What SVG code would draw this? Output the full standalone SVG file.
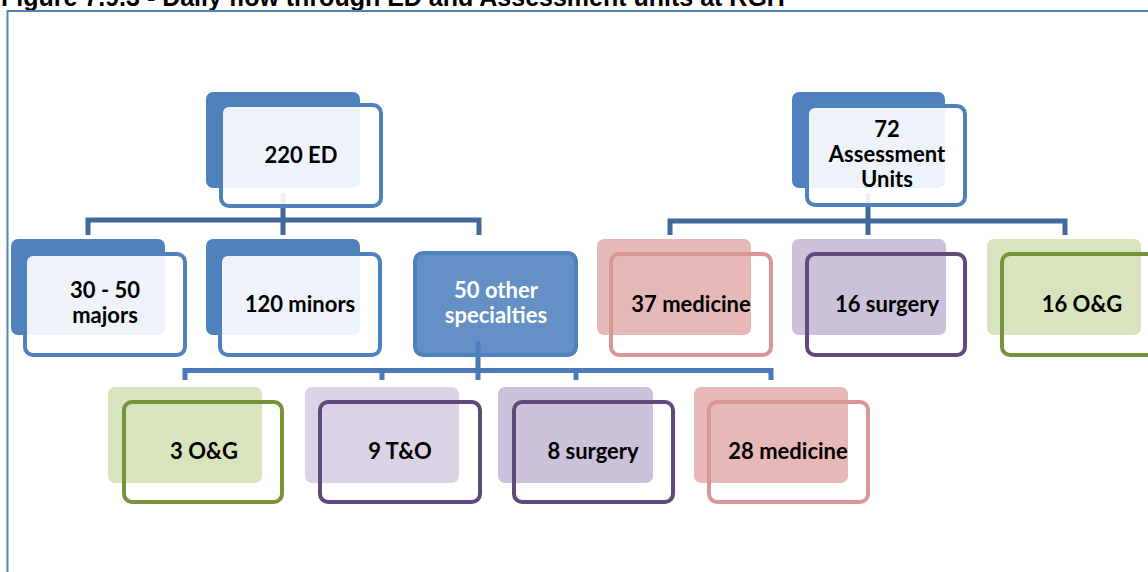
<svg xmlns="http://www.w3.org/2000/svg" width="1148" height="572" viewBox="0 0 1148 572">
  <style>
    .title { font-family: "Liberation Sans", Arial, sans-serif; font-weight: bold; font-size: 25px; fill: #000; }
    .lbl { font-family: Lato, "Liberation Sans", sans-serif; font-weight: bold; font-size: 22px; fill: #000; text-anchor: middle; }
    .lbl.inv { fill: #fff; }
    .back { stroke: none; }
    .front { stroke-width: 4; }
    .conn { fill: none; stroke-width: 5; stroke-linejoin: miter; stroke-linecap: butt; }
    .blue .back { fill: #4f81bd; }
    .blue .front { fill: #fff; fill-opacity: 0.9; stroke: #4f81bd; }
    .red .back { fill: #e6b9b8; }
    .red .front { fill: none; stroke: #d99694; }
    .purple .back { fill: #ccc1da; }
    .purple .front { fill: none; stroke: #604a7b; }
    .lilac .back { fill: #dbd3e5; }
    .lilac .front { fill: none; stroke: #604a7b; }
    .green .back { fill: #d7e4bd; }
    .green .front { fill: none; stroke: #77933c; }
  </style>

  <!-- caption and frame -->
  <text class="title" x="1" y="6">Figure 7.9.3 - Daily flow through ED and Assessment units at RGH</text>
  <path d="M7.5 572 V11 H1148" fill="none" stroke="#4f81bd" stroke-width="2"/>

  <!-- connectors -->
  <g id="connectors">
    <path class="conn" stroke="#41699c" d="M283 193 V235 M88 235 V220 H479 V235"/>
    <path class="conn" stroke="#41699c" d="M868 193 V235 M670 235 V221 H1065 V235"/>
    <path class="conn" stroke="#4a7bb8" d="M478 341 V380 M185 380 V370.5 H771 V380 M382 370.5 V380 M576 370.5 V380"/>
  </g>

  <!-- ED branch -->
  <g id="node-ed" class="blue">
    <rect class="back" x="206" y="92" width="154" height="96" rx="7"/>
    <rect class="front" x="221" y="105" width="160" height="101" rx="8"/>
    <text class="lbl" x="301" y="163">220 ED</text>
  </g>
  <g id="node-majors" class="blue">
    <rect class="back" x="11" y="239" width="154" height="96" rx="7"/>
    <rect class="front" x="25" y="254" width="160" height="101" rx="8"/>
    <text class="lbl" x="105" y="298">30 - 50</text>
    <text class="lbl" x="105" y="323">majors</text>
  </g>
  <g id="node-minors" class="blue">
    <rect class="back" x="206" y="239" width="154" height="96" rx="7"/>
    <rect class="front" x="220" y="254" width="160" height="101" rx="8"/>
    <text class="lbl" x="300" y="312">120 minors</text>
  </g>
  <g id="node-other">
    <rect x="415" y="253" width="161" height="102" rx="8" fill="#4f81bd" fill-opacity="0.88" stroke="#4f81bd" stroke-width="4"/>
    <text class="lbl inv" x="496" y="298">50 other</text>
    <text class="lbl inv" x="496" y="323">specialties</text>
  </g>

  <!-- specialties under "50 other" -->
  <g id="node-og3" class="green">
    <rect class="back" x="108" y="387" width="154" height="96" rx="7"/>
    <rect class="front" x="124" y="402" width="158" height="100" rx="8"/>
    <text class="lbl" x="204" y="459">3 O&amp;G</text>
  </g>
  <g id="node-to9" class="lilac">
    <rect class="back" x="305" y="387" width="154" height="96" rx="7"/>
    <rect class="front" x="320" y="402" width="160" height="100" rx="8"/>
    <text class="lbl" x="400" y="459">9 T&amp;O</text>
  </g>
  <g id="node-surgery8" class="purple">
    <rect class="back" x="498" y="387" width="155" height="96" rx="7"/>
    <rect class="front" x="514" y="402" width="159" height="100" rx="8"/>
    <text class="lbl" x="593" y="459">8 surgery</text>
  </g>
  <g id="node-medicine28" class="red">
    <rect class="back" x="694" y="387" width="154" height="96" rx="7"/>
    <rect class="front" x="709" y="402" width="159" height="100" rx="8"/>
    <text class="lbl" x="788" y="459">28 medicine</text>
  </g>

  <!-- Assessment Units branch -->
  <g id="node-au" class="blue">
    <rect class="back" x="792" y="92" width="153" height="96" rx="7"/>
    <rect class="front" x="807" y="106" width="158" height="99" rx="8"/>
    <text class="lbl" x="887" y="137">72</text>
    <text class="lbl" x="887" y="162">Assessment</text>
    <text class="lbl" x="887" y="187">Units</text>
  </g>
  <g id="node-medicine37" class="red">
    <rect class="back" x="597" y="239" width="154" height="96" rx="7"/>
    <rect class="front" x="611" y="254" width="160" height="101" rx="8"/>
    <text class="lbl" x="691" y="312">37 medicine</text>
  </g>
  <g id="node-surgery16" class="purple">
    <rect class="back" x="792" y="239" width="154" height="96" rx="7"/>
    <rect class="front" x="807" y="254" width="158" height="101" rx="8"/>
    <text class="lbl" x="887" y="312">16 surgery</text>
  </g>
  <g id="node-og16" class="green">
    <rect class="back" x="987" y="239" width="154" height="96" rx="7"/>
    <rect class="front" x="1002" y="254" width="158" height="101" rx="8"/>
    <text class="lbl" x="1082" y="312">16 O&amp;G</text>
  </g>
</svg>
